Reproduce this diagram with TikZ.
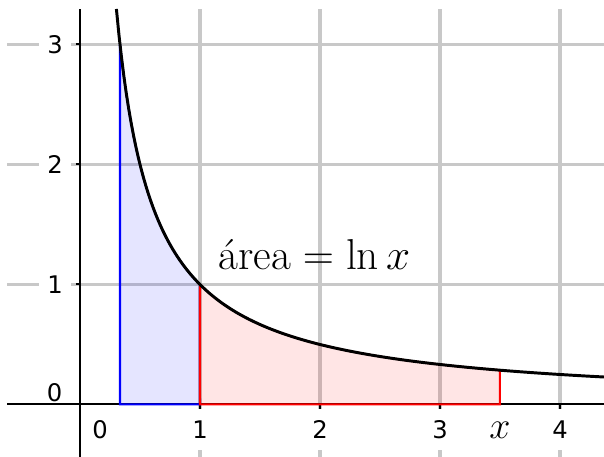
\RequirePackage{fix-cm}
\documentclass[tikz,border=0pt]{standalone}
\usepackage{fontspec}
\newfontfamily\tickfont{DejaVu Sans}
\definecolor{gridgray}{RGB}{200,200,200}
\tikzset{
  ticklabel/.style={fill=white, inner xsep=4pt, inner ysep=5.4pt,
    font=\tickfont\fontsize{11.5}{13}\selectfont},
  zerolabel/.style={inner sep=0pt, font=\tickfont\fontsize{11.5}{13}\selectfont},
  region/.style={line width=0.95pt, fill opacity=0.1}
}

\begin{document}
\begin{tikzpicture}[x=2cm,y=2cm]
  \useasboundingbox (-0.6667,-0.4375) rectangle (4.3667,3.3708);

  % Grid
  \begin{scope}[gridgray, line width=1.7pt]
    \foreach \i in {1,...,4} \draw (\i,-0.4375) -- (\i,3.296);
    \foreach \j in {1,2,3} \draw (-0.608,\j) -- (4.3667,\j);
  \end{scope}

  % Tick labels
  \foreach \i in {1,...,4} \node[ticklabel] (xl\i) at (\i,-0.21) {\i};
  \foreach \j in {1,2,3} \node[ticklabel] (yl\j) at (-0.208,\j) {\j};
  \node[zerolabel] (xl0) at (0.167,-0.21) {0};
  \node[zerolabel] (yl0) at (-0.2125,0.1) {0};

  % Axes
  \begin{scope}[line width=0.95pt]
    \draw (-0.608,0) -- (4.3667,0);
    \draw (0,-0.4375) -- (0,3.296);
    \foreach \i in {1,...,4} \draw (\i,0) -- +(0,-0.035);
    \foreach \j in {1,2,3} \draw (0,\j) -- +(-0.035,0);
  \end{scope}

  % Areas
  \filldraw[region, blue] (1/3,0) -- plot[domain=1/3:1, samples=60] (\x,{1/\x}) -- (1,0) -- cycle;
  \filldraw[region, red] (1,0) -- plot[domain=1:3.5, samples=80] (\x,{1/\x}) -- (3.5,0) -- cycle;

  % 1/x
  \draw[line width=1.4pt] plot[domain=0.3034:4.3667, samples=200] (\x,{1/\x});

  \node[anchor=base west, inner sep=0pt, font=\fontsize{20.5}{24}\selectfont] (area) at (1.15,1.129) {área${}=\ln x$};
  \node[font=\fontsize{18}{22}\selectfont] (xval) at (3.5,-0.2125) {$x$};
\end{tikzpicture}
\end{document}
